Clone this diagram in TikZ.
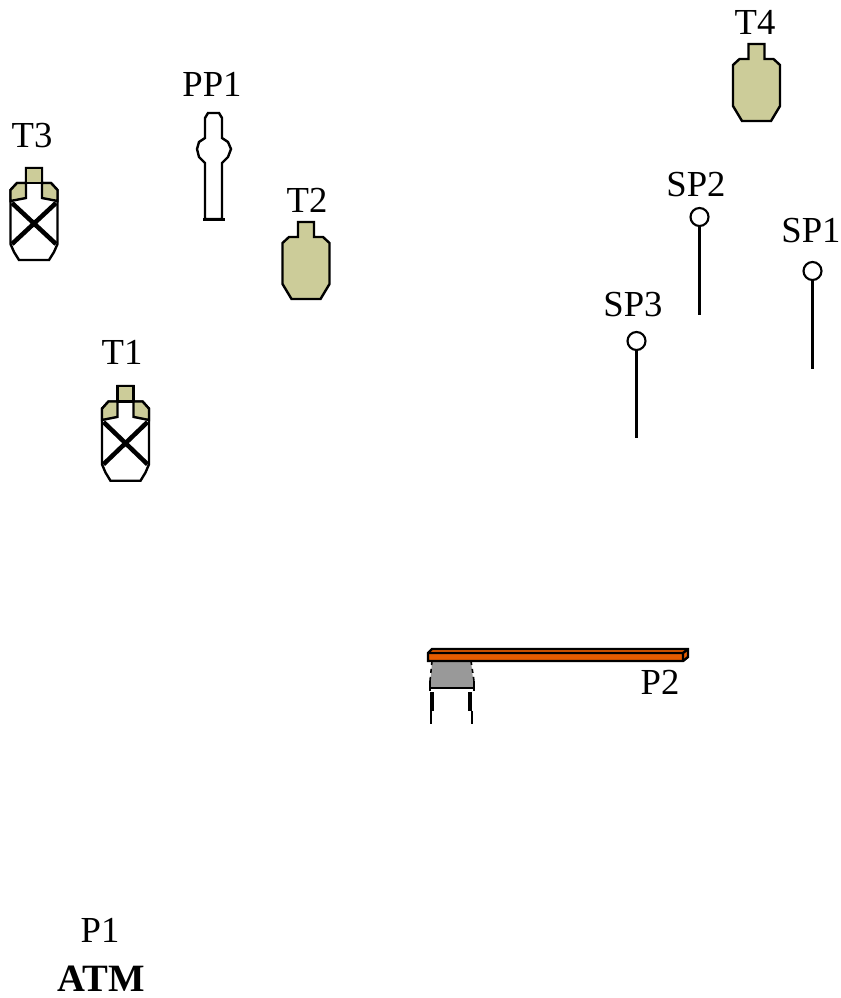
\documentclass[tikz,border=0pt]{standalone}
\usepackage{fontspec}
\setmainfont{Liberation Serif}
\definecolor{vesselfill}{HTML}{CCCC99}
\definecolor{deckorange}{HTML}{E65C00}
\definecolor{deckgrey}{HTML}{999999}
\tikzset{
  x=0.75pt, y=-0.75pt,
  outline/.style={draw=black, line width=1.8pt, line join=miter},
  tag/.style={anchor=base, inner sep=0pt, font=\fontsize{27.5}{30}\selectfont},
  pics/vessel/.style={code={
    \path[outline, fill=vesselfill] (-8,0) -- (8,0) -- (8,15) -- (17,15) -- (23.5,21) -- (23.5,62) -- (14.5,77)
      -- (-14.5,77) -- (-23.5,62) -- (-23.5,21) -- (-17,15) -- (-8,15) -- cycle;
  }},
  pics/closedvessel/.style={code={
    \path[outline, fill=white] (-8,0) -- (8,0) -- (8,15) -- (17,15) -- (23.5,22) -- (23.5,76) -- (20,84) -- (15,92)
      -- (-15,92) -- (-20,84) -- (-23.5,76) -- (-23.5,22) -- (-17,15) -- (-8,15) -- cycle;
    \path[outline, fill=vesselfill] (-8,0) -- (8,0) -- (8,15) -- (-8,15) -- cycle;
    \path[outline, fill=vesselfill] (-8,15) -- (-17,15) -- (-23.5,22) -- (-23.5,33) -- (-8,30) -- cycle;
    \path[outline, fill=vesselfill] (8,15) -- (17,15) -- (23.5,22) -- (23.5,33) -- (8,30) -- cycle;
    \draw[line width=3.4pt] (-22,35) -- (22,76) (22,35) -- (-22,76);
  }},
  pics/gauge/.style={code={
    \draw[line width=2.5pt] (0,9) -- (0,#1);
    \draw[line width=1.6pt, fill=white] (0,0) circle[radius=9];
  }},
}
\begin{document}
\begin{tikzpicture}
\useasboundingbox (0,0) rectangle (841,998);
% vessels
\pic at (756.5,44) {vessel};
\pic at (306,222) {vessel};
\pic at (34,168) {closedvessel};
\pic[yscale=1.03] at (125.5,386) {closedvessel};
% PP1
\path[outline, fill=white] (208,113) -- (219,113) -- (222,118) -- (222,138) -- (228,142) -- (231,149) -- (228,157)
  -- (222,163) -- (222,219) -- (205,219) -- (205,163) -- (199,157) -- (197,149) -- (199,142) -- (205,138) -- (205,118) -- cycle;
\draw[line width=2.4pt] (203,219.5) -- (225,219.5);
% gauges
\pic at (699.5,217) {gauge=98};
\pic at (812.5,271) {gauge=98};
\pic at (636.5,341) {gauge=97};
% P2 support
\path[fill=deckgrey] (432,661) -- (471,661) -- (474,688) -- (430,688) -- cycle;
\draw[line width=1.4pt] (429,688) -- (475,688);
\draw[line width=2pt] (430,681) -- (430,691) (474,681) -- (474,691);
\draw[line width=1.2pt, dashed] (432,661) -- (430,681) (471,661) -- (474,681);
\draw[line width=3pt] (432,692) -- (432,711) (470,692) -- (470,711);
\draw[line width=1.5pt] (431,711) -- (431,724) (472,711) -- (472,724);
% P2 deck
\path[draw=black, line width=1.8pt, fill=deckorange] (432,649) -- (688,649) -- (688,657) -- (683,661) -- (428,661) -- (428,653) -- cycle;
\draw[line width=1.8pt] (428,653) -- (683,653) -- (688,649) (683,653) -- (683,661);
% labels
\node[tag] (t4) at (755,35) {T4};
\node[tag] (pp1) at (212,97) {PP1};
\node[tag] (t3) at (32,148) {T3};
\node[tag] (t2) at (307,213) {T2};
\node[tag] (t1) at (122,364) {T1};
\node[tag] (sp2) at (696,197) {SP2};
\node[tag] (sp1) at (811,243) {SP1};
\node[tag] (sp3) at (633,316) {SP3};
\node[tag] (p2) at (660,694) {P2};
\node[tag] (p1) at (100,942) {P1};
\node[tag, font=\fontsize{29}{30}\selectfont\bfseries] (atm) at (101,991.5) {ATM};
\end{tikzpicture}
\end{document}
